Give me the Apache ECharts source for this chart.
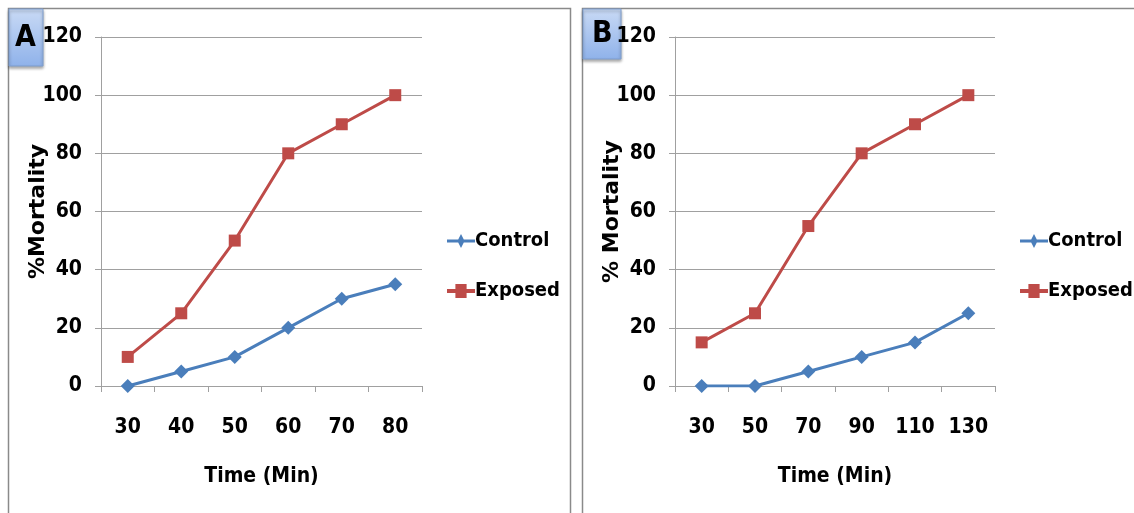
<!DOCTYPE html>
<html><head><meta charset="utf-8">
<script src="https://cdn.jsdelivr.net/npm/echarts@6/dist/echarts.min.js"></script>
<style>html,body{margin:0;padding:0;background:#fff}#c{width:1134px;height:513px}</style>
</head><body><div id="c"></div>
<script>
const catsA = ['30','40','50','60','70','80'];
const controlA = [0,5,10,20,30,35];
const exposedA = [10,25,50,80,90,100];
const catsB = ['30','50','70','90','110','130'];
const controlB = [0,0,5,10,15,25];
const exposedB = [15,25,55,80,90,100];
const yTicks = {min:0,max:120,interval:20};

const FONT = '"DejaVu Sans Condensed","Liberation Sans Narrow","Arial Narrow",sans-serif';
const WIDE = '"DejaVu Sans",sans-serif';
const BLUE = '#4A7EBB', RED = '#BE4B48';
const chart = echarts.init(document.getElementById('c'));
const lbl = {fontFamily:FONT,fontWeight:'bold',fontSize:21,color:'#000'};

function xAx(cats, gi){
  return {type:'category',gridIndex:gi,data:cats,boundaryGap:true,
    axisLine:{lineStyle:{color:'#a0a0a0',width:1}},
    axisTick:{show:true,length:6,interval:0,lineStyle:{color:'#a0a0a0'}},
    axisLabel:Object.assign({margin:31,interval:0},lbl),
    name:'Time (Min)',nameLocation:'middle',nameGap:80,nameMoveOverlap:false,
    nameTextStyle:Object.assign({},lbl)};
}
function yAx(gi,name){
  return {type:'value',gridIndex:gi,min:yTicks.min,max:yTicks.max,interval:yTicks.interval,
    axisLine:{show:true,lineStyle:{color:'#a0a0a0'}},
    axisTick:{show:true,length:6,lineStyle:{color:'#a0a0a0'}},
    splitLine:{lineStyle:{color:'#a0a0a0',width:1}},
    axisLabel:Object.assign({margin:19},lbl),
    name:name,nameLocation:'middle',nameGap:52,nameRotate:90,nameMoveOverlap:false,
    nameTextStyle:{fontFamily:WIDE,fontWeight:'bold',fontSize:22,color:'#000',letterSpacing:3.5}};
}
function ser(name,data,gi,color,sym,size){
  return {name:name,type:'line',xAxisIndex:gi,yAxisIndex:gi,data:data,
    symbol:sym,symbolSize:size,lineStyle:{color:color,width:3},
    itemStyle:{color:color},emphasis:{disabled:true}};
}
const legendItems = [{name:'Control',icon:'path://M0,4 L8,4 L10,0 L12,4 L20,4 L20,6 L12,6 L10,10 L8,6 L0,6 Z'},
                     {name:'Exposed',icon:'path://M0,3.5 L6,3.5 L6,0 L14,0 L14,3.5 L20,3.5 L20,6.5 L14,6.5 L14,10 L6,10 L6,6.5 L0,6.5 Z'}];
const legTxt = Object.assign({},lbl,{fontSize:20,padding:[0,0,0,-6]});
chart.setOption({
  animation:false,
  grid:[{left:101,top:37,width:321,height:349},{left:675,top:37,width:320,height:349}],
  xAxis:[xAx(catsA,0),xAx(catsB,1)],
  yAxis:[yAx(0,'%Mortality'),yAx(1,'% Mortality')],
  legend:[
    {left:442,top:226,orient:'vertical',itemGap:30,itemWidth:30,itemHeight:14,
     textStyle:legTxt,data:legendItems,selectedMode:false},
    {left:1015,top:226,orient:'vertical',itemGap:30,itemWidth:30,itemHeight:14,
     textStyle:legTxt,data:legendItems,selectedMode:false}
  ],
  series:[
    ser('Control',controlA,0,BLUE,'diamond',14),
    ser('Exposed',exposedA,0,RED,'rect',12),
    ser('Control',controlB,1,BLUE,'diamond',14),
    ser('Exposed',exposedB,1,RED,'rect',12)
  ],
  graphic:[
    {type:'rect',shape:{x:8.5,y:8.5,width:562,height:520},style:{fill:'none',stroke:'#8a8a8a',lineWidth:1.5},z:-1},
    {type:'rect',shape:{x:582.5,y:8.5,width:560,height:520},style:{fill:'none',stroke:'#8a8a8a',lineWidth:1.5},z:-1},
    {type:'rect',shape:{x:9,y:9,width:34,height:57},
     style:{fill:new echarts.graphic.LinearGradient(0,0,0,1,[{offset:0,color:'#c9daf5'},{offset:1,color:'#8fb2ea'}]),
            stroke:'#7f9fd0',lineWidth:1,shadowBlur:3,shadowColor:'rgba(0,0,0,0.35)',shadowOffsetY:2}},
    {type:'text',left:15,top:23,style:{text:'A',font:'bold 30px '+FONT,fill:'#000'}},
    {type:'rect',shape:{x:583,y:9,width:38,height:50},
     style:{fill:new echarts.graphic.LinearGradient(0,0,0,1,[{offset:0,color:'#c9daf5'},{offset:1,color:'#8fb2ea'}]),
            stroke:'#7f9fd0',lineWidth:1,shadowBlur:3,shadowColor:'rgba(0,0,0,0.35)',shadowOffsetY:2}},
    {type:'text',left:592,top:19,style:{text:'B',font:'bold 30px '+FONT,fill:'#000'}}
  ]
});
</script></body></html>
